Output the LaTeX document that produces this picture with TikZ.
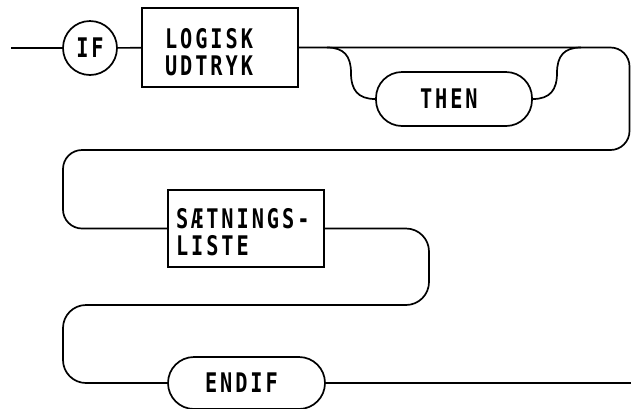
\documentclass[tikz,border=0pt]{standalone}
\usepackage{fontspec}
\newfontfamily\diagfont{DejaVu Sans Mono}[FakeStretch=0.75,LetterSpace=11]
\begin{document}
\begin{tikzpicture}[x=1pt,y=1pt,line width=1.7pt,
  lbl/.style={font=\diagfont\bfseries\fontsize{27}{27.5}\selectfont},
  boxnode/.style={draw, rectangle, align=left, inner ysep=0pt, lbl},
  stadium/.style={draw, rounded corners=26pt, align=left, inner ysep=0pt, lbl},
  ifnode/.style={draw, circle, minimum size=54pt, inner sep=0pt, lbl}]
\useasboundingbox (0,0) rectangle (631,-408);

% nodes
\node[ifnode] (if) at (90,-48) {IF};
\node[boxnode, text width=110pt, inner xsep=23pt, minimum height=79pt] (log) at (220,-47.5)
      {\rule{0pt}{29pt}LOGISK\\UDTRYK};
\node[stadium, text width=68pt, inner xsep=44pt, minimum height=54pt] (then) at (454,-99) {THEN};
\node[boxnode, text width=140pt, inner xsep=8pt, minimum height=77pt] (sat) at (246,-228.5)
      {\rule{0pt}{27pt}SÆTNINGS-\\LISTE};
\node[stadium, text width=83pt, inner xsep=37pt, minimum height=52pt] (endif) at (246.5,-383) {ENDIF};

% free ends and branch points
\coordinate (start) at (11,-48);
\coordinate (b1) at (327,-47.5);
\coordinate (b2) at (581,-47.5);
\coordinate (finish) at (633,-383);

% connectors
\draw (start) -- (if);
\draw (if) -- (log);
\draw[rounded corners=19pt] (log.east) -- (629.5,-47.5) -- (629.5,-150) -- (63,-150) -- (63,-228.5) -- (sat.west);
\draw (b1) .. controls (344,-47.5) and (351,-56) .. (351,-73) .. controls (351,-90) and (358,-99) .. (then.west);
\draw (then.east) .. controls (550,-99) and (557,-90) .. (557,-73) .. controls (557,-56) and (564,-47.5) .. (b2);
\draw[rounded corners=23pt] (sat.east) -- (429,-228.5) -- (429,-305) -- (63,-305) -- (63,-383) -- (endif.west);
\draw (endif.east) -- (finish);
\end{tikzpicture}
\end{document}
